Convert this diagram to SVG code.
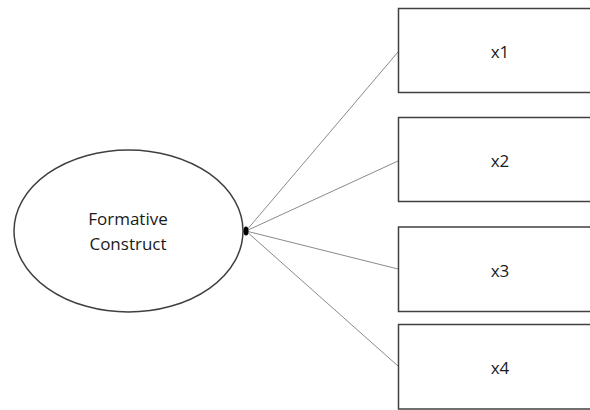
<svg xmlns="http://www.w3.org/2000/svg" width="590" height="410" viewBox="0 0 590 410">
  <style>
    .box { fill: #ffffff; stroke: #404040; stroke-width: 1.5; }
    .construct { fill: #ffffff; stroke: #404040; stroke-width: 1.5; }
    .link { stroke: #8a8a8a; stroke-width: 1; fill: none; }
    .label { font-family: "Open Sans", "Liberation Sans", sans-serif; font-size: 17px; fill: #1a1a1a; text-anchor: middle; }
  </style>
  <rect width="590" height="410" fill="#ffffff"/>

  <!-- connectors from the construct to its indicators -->
  <g id="connectors">
    <line class="link" x1="246" y1="231" x2="398" y2="52"/>
    <line class="link" x1="246" y1="231" x2="398" y2="161"/>
    <line class="link" x1="246" y1="231" x2="398" y2="269"/>
    <line class="link" x1="246" y1="231" x2="398" y2="366"/>
  </g>

  <g id="construct">
    <ellipse class="construct" cx="128.5" cy="231" rx="114.5" ry="81"/>
    <text class="label" x="128" y="225">Formative</text>
    <text class="label" x="128" y="250">Construct</text>
  </g>

  <!-- junction point on the ellipse edge -->
  <ellipse id="junction" cx="246" cy="231" rx="2.5" ry="4.5" fill="#000000"/>

  <g id="x1">
    <rect class="box" x="398.5" y="8.5" width="200" height="84"/>
    <text class="label" x="500" y="58">x1</text>
  </g>
  <g id="x2">
    <rect class="box" x="398.5" y="117.5" width="200" height="84"/>
    <text class="label" x="500" y="167">x2</text>
  </g>
  <g id="x3">
    <rect class="box" x="398.5" y="227" width="200" height="84.5"/>
    <text class="label" x="500" y="277">x3</text>
  </g>
  <g id="x4">
    <rect class="box" x="398.5" y="324.5" width="200" height="84.5"/>
    <text class="label" x="500" y="374">x4</text>
  </g>
</svg>
